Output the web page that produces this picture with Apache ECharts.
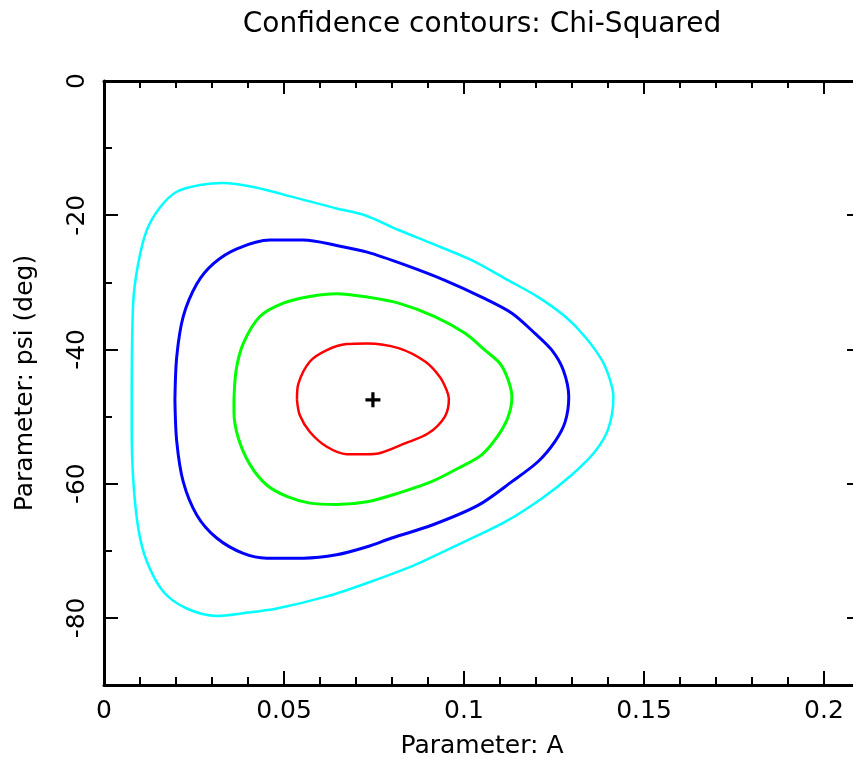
<!DOCTYPE html>
<html><head><meta charset="utf-8">
<script src="https://cdn.jsdelivr.net/npm/echarts@6/dist/echarts.min.js"></script>
<style>html,body{margin:0;padding:0;background:#fff}#c{width:853px;height:759px}</style>
</head><body><div id="c"></div>
<script>
const titleText = 'Confidence contours: Chi-Squared';
const xName = 'Parameter: A';
const yName = 'Parameter: psi (deg)';
const xMajorTicks = [0, 0.05, 0.1, 0.15, 0.2];
const xMinorTicks = [0.01,0.02,0.03,0.04,0.06,0.07,0.08,0.09,0.11,0.12,0.13,0.14,0.16,0.17,0.18,0.19];
const yMajorTicks = [-80, -60, -40, -20, 0];
const yMinorTicks = [-90, -70, -50, -30, -10];
const bestFit = [[0.0747, -47.5]];
const contourCyan = [[0.0077,-47.5],[0.0081,-33.1],[0.0095,-27.2],[0.0119,-22.2],[0.0156,-18.8],[0.0202,-16.5],[0.0267,-15.5],[0.0331,-15.2],[0.0415,-15.8],[0.0526,-17.3],[0.0646,-19.0],[0.0725,-20.0],[0.0818,-22.2],[0.0910,-24.2],[0.1021,-26.7],[0.1123,-29.7],[0.1206,-32.2],[0.1281,-35.1],[0.1336,-38.1],[0.1383,-41.6],[0.1406,-44.6],[0.1415,-47.1],[0.1401,-51.8],[0.1364,-55.2],[0.1299,-58.7],[0.1216,-62.2],[0.1114,-65.7],[0.1003,-68.6],[0.0864,-72.1],[0.0731,-74.8],[0.0619,-76.8],[0.0480,-78.6],[0.0387,-79.3],[0.0313,-79.7],[0.0230,-78.6],[0.0165,-76.1],[0.0119,-71.6],[0.0095,-66.6],[0.0081,-59.2],[0.0077,-51.8],[0.0077,-47.5]];
const contourBlue = [[0.0197,-47.5],[0.0202,-41.1],[0.0220,-35.1],[0.0258,-30.2],[0.0304,-27.2],[0.0369,-25.0],[0.0461,-23.7],[0.0554,-23.7],[0.0646,-24.5],[0.0731,-25.5],[0.0836,-27.4],[0.0947,-29.7],[0.1049,-32.2],[0.1133,-34.6],[0.1197,-37.6],[0.1244,-40.1],[0.1276,-43.1],[0.1291,-47.1],[0.1281,-50.8],[0.1253,-53.7],[0.1206,-56.7],[0.1133,-59.7],[0.1040,-63.2],[0.0910,-66.2],[0.0799,-68.1],[0.0731,-69.4],[0.0646,-70.6],[0.0554,-71.1],[0.0452,-71.1],[0.0387,-70.4],[0.0313,-68.1],[0.0258,-64.7],[0.0220,-59.7],[0.0202,-53.7],[0.0197,-47.5]];
const contourGreen = [[0.0361,-47.5],[0.0367,-43.1],[0.0387,-39.1],[0.0433,-35.1],[0.0498,-33.1],[0.0572,-32.1],[0.0646,-31.7],[0.0731,-32.2],[0.0818,-33.1],[0.0919,-35.1],[0.1003,-37.6],[0.1058,-40.1],[0.1100,-42.1],[0.1123,-44.6],[0.1133,-47.1],[0.1123,-50.0],[0.1095,-52.8],[0.1049,-55.7],[0.0984,-57.7],[0.0910,-59.7],[0.0818,-61.4],[0.0731,-62.7],[0.0646,-63.1],[0.0572,-62.9],[0.0508,-61.9],[0.0452,-60.2],[0.0406,-57.2],[0.0373,-53.2],[0.0361,-49.3],[0.0361,-47.5]];
const contourRed = [[0.0536,-47.5],[0.0540,-45.1],[0.0572,-41.8],[0.0619,-40.1],[0.0674,-39.2],[0.0731,-39.1],[0.0818,-39.8],[0.0892,-41.8],[0.0933,-44.1],[0.0952,-46.1],[0.0958,-47.4],[0.0947,-50.0],[0.0901,-52.5],[0.0836,-54.0],[0.0762,-55.5],[0.0731,-55.6],[0.0674,-55.6],[0.0619,-54.5],[0.0572,-52.3],[0.0544,-49.8],[0.0536,-47.5]];

const FONT = 'DejaVu Sans';
const FS = 25;
const X_MIN = 0, X_MAX = 0.21, Y_MIN = -90, Y_MAX = 0;

function xAxisDef(pos, ticks, len, major) {
  return {
    type: 'value', position: pos, min: X_MIN, max: X_MAX,
    axisLine: {show: major, onZero: false, lineStyle: {color: '#000', width: 3}},
    axisTick: {show: true, inside: true, length: len, customValues: ticks, lineStyle: {color: '#000', width: 2}},
    axisLabel: {show: major && pos === 'bottom', customValues: ticks, margin: 14,
      fontFamily: FONT, fontSize: FS, color: '#000'},
    splitLine: {show: false},
    name: (major && pos === 'bottom') ? xName : '',
    nameLocation: 'middle', nameGap: 49,
    nameTextStyle: {fontFamily: FONT, fontSize: FS, color: '#000'}
  };
}
function yAxisDef(pos, ticks, len, major) {
  return {
    type: 'value', position: pos, min: Y_MIN, max: Y_MAX,
    axisLine: {show: major, onZero: false, lineStyle: {color: '#000', width: 3}},
    axisTick: {show: true, inside: true, length: len, customValues: ticks, lineStyle: {color: '#000', width: 2}},
    axisLabel: {show: major && pos === 'left', customValues: ticks, margin: 14, rotate: 90,
      fontFamily: FONT, fontSize: FS, color: '#000'},
    splitLine: {show: false},
    name: (major && pos === 'left') ? yName : '',
    nameLocation: 'middle', nameGap: 66,
    nameTextStyle: {fontFamily: FONT, fontSize: FS, color: '#000'}
  };
}

const chart = echarts.init(document.getElementById('c'), null, {renderer: 'canvas'});
function contour(name, data, color, width) {
  return {name, type: 'line', data, xAxisIndex: 0, yAxisIndex: 0, showSymbol: false, symbol: 'none',
    smooth: 0.3, lineStyle: {color, width}, silent: true};
}
chart.setOption({
  animation: false,
  backgroundColor: '#fff',
  title: {text: titleText, left: 477, top: 6, textAlign: 'center',
    textStyle: {fontFamily: FONT, fontSize: 28, fontWeight: 'normal', color: '#000'}},
  grid: {left: 104, top: 81, width: 756, height: 604, containLabel: false, outerBoundsMode: 'none'},
  xAxis: [
    xAxisDef('bottom', xMajorTicks, 14, true),
    xAxisDef('bottom', xMinorTicks, 8, false),
    xAxisDef('top', xMajorTicks, 13, true),
    xAxisDef('top', xMinorTicks, 7, false)
  ],
  yAxis: [
    yAxisDef('left', yMajorTicks, 14, true),
    yAxisDef('left', yMinorTicks, 8, false),
    yAxisDef('right', yMajorTicks, 13, true),
    yAxisDef('right', yMinorTicks, 7, false)
  ],
  series: [
    contour('cyan', contourCyan, '#00ffff', 2.5),
    contour('blue', contourBlue, '#0000ff', 3),
    contour('green', contourGreen, '#00ff00', 3),
    contour('red', contourRed, '#ff0000', 2.5),
    {name: 'best fit', type: 'scatter', data: bestFit, xAxisIndex: 0, yAxisIndex: 0,
      symbol: 'path://M5.5,0h3v5.5h5.5v3h-5.5v5.5h-3v-5.5h-5.5v-3h5.5z', symbolSize: 15,
      itemStyle: {color: '#000', opacity: 1}, silent: true}
  ]
});
</script></body></html>
